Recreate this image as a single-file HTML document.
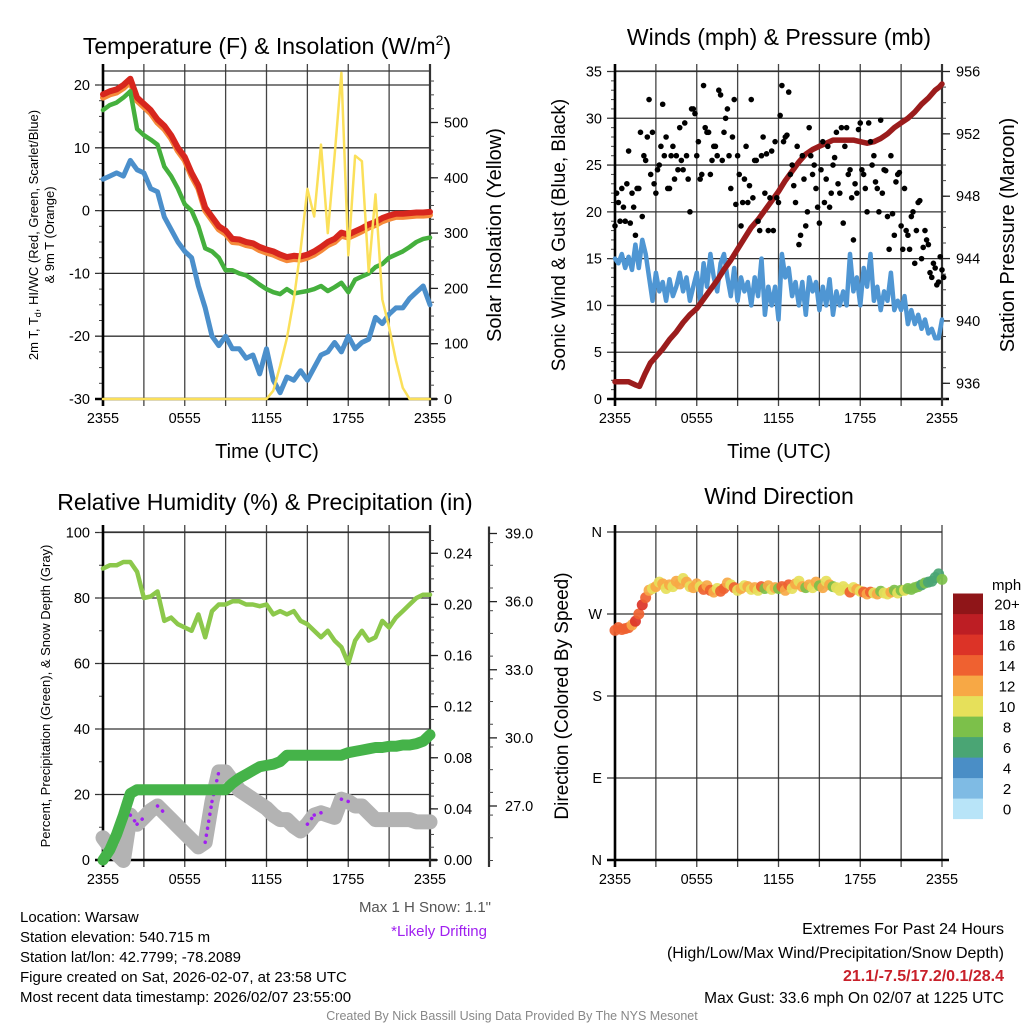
<!DOCTYPE html>
<html><head><meta charset="utf-8"><style>
html,body{margin:0;padding:0;background:#fff;}
svg{display:block;font-family:"Liberation Sans",Arial,sans-serif;}
</style></head><body>
<svg id="fig" width="1024" height="1024" viewBox="0 0 1024 1024" xmlns="http://www.w3.org/2000/svg">
<rect width="1024" height="1024" fill="#fff"/>
<!-- titles -->
<text x="267" y="54" font-size="23" text-anchor="middle">Temperature (F) &amp; Insolation (W/m<tspan font-size="14" dy="-9">2</tspan><tspan dy="9">)</tspan></text>
<text x="779" y="45" font-size="23" text-anchor="middle">Winds (mph) &amp; Pressure (mb)</text>
<text x="265" y="510" font-size="23" text-anchor="middle">Relative Humidity (%) &amp; Precipitation (in)</text>
<text x="779" y="504" font-size="23" text-anchor="middle">Wind Direction</text>
<!-- axis titles -->
<text transform="translate(38,235) rotate(-90)" font-size="13" text-anchor="middle">2m T, T<tspan font-size="9" dy="3">d</tspan><tspan dy="-3">, HI/WC (Red, Green, Scarlet/Blue)</tspan></text>
<text transform="translate(54,235) rotate(-90)" font-size="13" text-anchor="middle">&amp; 9m T (Orange)</text>
<text transform="translate(501,235) rotate(-90)" font-size="20" text-anchor="middle">Solar Insolation (Yellow)</text>
<text x="267" y="458" font-size="20" text-anchor="middle">Time (UTC)</text>
<text transform="translate(565,235) rotate(-90)" font-size="19" text-anchor="middle">Sonic Wind &amp; Gust (Blue, Black)</text>
<text transform="translate(1014,235) rotate(-90)" font-size="20" text-anchor="middle">Station Pressure (Maroon)</text>
<text x="779" y="458" font-size="20" text-anchor="middle">Time (UTC)</text>
<text transform="translate(50,696) rotate(-90)" font-size="13" text-anchor="middle">Percent, Precipitation (Green), &amp; Snow Depth (Gray)</text>
<text transform="translate(568,696) rotate(-90)" font-size="19" text-anchor="middle">Direction (Colored By Speed)</text>
<!-- footer -->
<text x="491" y="912" font-size="15" fill="#555" text-anchor="end">Max 1 H Snow: 1.1"</text>
<text x="487" y="936" font-size="15" fill="#a020f0" text-anchor="end">*Likely Drifting</text>
<g font-size="15" fill="#000">
<text x="20" y="922">Location: Warsaw</text>
<text x="20" y="942">Station elevation: 540.715 m</text>
<text x="20" y="962">Station lat/lon: 42.7799; -78.2089</text>
<text x="20" y="982">Figure created on Sat, 2026-02-07, at 23:58 UTC</text>
<text x="20" y="1002">Most recent data timestamp: 2026/02/07 23:55:00</text>
</g>
<text x="512" y="1020" font-size="12.5" fill="#888" text-anchor="middle">Created By Nick Bassill Using Data Provided By The NYS Mesonet</text>
<g font-size="16" text-anchor="end">
<text x="1004" y="934">Extremes For Past 24 Hours</text>
<text x="1004" y="958">(High/Low/Max Wind/Precipitation/Snow Depth)</text>
<text x="1004" y="981" fill="#c8202a" font-weight="bold">21.1/-7.5/17.2/0.1/28.4</text>
<text x="1004" y="1003" font-size="15.5">Max Gust: 33.6 mph On 02/07 at 1225 UTC</text>
</g>
<g id="layer"></g>
</svg>
<script>
// ---------- DATA (half-hourly unless noted) ----------
const tempRed=[18.5,19,19.3,20,21,18,17,16,14.5,13.5,12,10,8.5,6,4,0.5,-1,-2.5,-3.2,-4.5,-4.6,-5,-5.2,-5.8,-6.2,-6.5,-7,-7.4,-7.2,-7.3,-7,-6.5,-5.8,-5,-4.5,-3.5,-3.8,-3.3,-2.8,-2.2,-1.8,-1.2,-0.8,-0.5,-0.5,-0.4,-0.3,-0.3,-0.2];
const tempOrange=[18,18.5,18.8,19.5,20.5,17.5,16.5,15.5,14,13,11.5,9.5,8,5.5,3.5,0,-1.5,-3,-3.7,-5,-5.1,-5.5,-5.7,-6.3,-6.7,-7,-7.5,-7.9,-7.7,-7.8,-7.5,-7,-6.3,-5.5,-5,-4,-4.3,-3.8,-3.3,-2.7,-2.3,-1.7,-1.3,-1,-1,-0.9,-0.8,-0.8,-0.7];
const tempGreen=[16,16.8,17.2,18,19,13,12,11.3,10.5,7,5.5,3.5,1,0,-2.5,-6,-6.5,-7.5,-9.5,-9.5,-10,-10.3,-11,-11.8,-12.5,-13,-13.3,-12.5,-13.2,-13,-12.8,-12.5,-12,-12.8,-12.2,-11.5,-13,-11,-10.5,-10,-9,-8.5,-7.5,-7,-6.5,-5.8,-5,-4.5,-4.3];
const tempBlue=[5,5.5,6,5.5,8,6.5,6,3.5,3,-1,-3,-5,-6.5,-7.5,-12,-15.5,-20,-21.5,-20,-22,-22,-23.5,-23,-26,-22,-27,-29,-26.5,-27,-25.5,-27,-25,-23,-22.5,-21,-22.5,-20,-22,-21,-20.5,-17,-18,-16.5,-15.5,-15.5,-14,-13,-12,-15];
const solar=[0,0,0,0,0,0,0,0,0,0,0,0,0,0,0,0,0,0,0,0,0,0,0,0,0,15,60,110,180,270,380,330,460,300,440,590,260,440,430,230,370,180,130,70,20,0,0,0,0];
// quarter-hourly wind data
const windSpeed=[15,14.5,15.5,14,15.2,13.8,16.5,14,17,15.5,13,10.5,13.5,11.5,12.5,10.5,12.8,11,12,13.5,11.5,13,10.5,12,13.5,10.5,14.5,12,15.5,13,11.5,14.5,15.5,13,11,14,10.5,13,11.5,12.5,10,13,11,15,9,12,10,12,8.5,15.5,13,14,11,12.5,10,12.5,9,13,11.5,12.5,9.5,12,10,12.8,9,11.5,10,11.5,10,15.5,11.5,13,10,14,12,15.5,10.5,12,9.5,11.5,10.5,13.5,9.5,10.5,9.5,11,8,9.5,8,9,7.5,8.5,7,7.5,6.5,6.5,8.5];
const windGust=[18.5,21,22.5,19,26.5,22,17.5,22.5,19.5,25.5,32,28.5,22,25,31.5,28,22.5,27,26,29,24.5,26,20,31,26,23.5,33.5,28.5,24,27,26,32.5,28.5,31,22.5,32,26,18.5,23.5,21,32,25.5,19,26,22,18,26.5,27.5,21,33.5,28,32.8,25,21,16.5,26,18.5,29,24,22.5,18.8,27.5,23.5,20.5,25,28.5,22,18.8,29,24.5,17,22,29.5,24,20,27.5,26,22.5,29.8,24.5,19.5,26,17.5,24,18.5,22.5,17.5,19.5,14.5,21,15,18,16.5,13,14,12.5,13.8];
const windGust2=[22,19,20.5,23,18.8,20.5,22.5,28.5,26,28,24,23,24.5,27,26,22.5,26,23.5,24.5,25.5,29.5,23.5,31,30.5,27.5,24,29,28.5,25.5,27,33,25.5,30,26,28,20.8,24,21,27,22.8,21.5,25.5,18,28,26.2,21.5,18,21.5,30.3,27.5,28.2,24,22.8,27,17.5,23.5,20,26,25,20.5,24.5,21,27,22,25.8,23,29,27,24,21.5,23,28.8,24.5,22.5,29.5,25,23.2,20,22,24.4,16,19.8,23.2,24.2,16,18,16,20,18,21.2,16.2,17,13.5,14.5,12.2,15.2,13];
const windDir=[252,255,253,254,255,258,262,270,280,288,296,298,300,305,303,298,302,300,306,303,309,305,300,299,303,300,297,301,296,294,298,295,298,304,302,299,296,298,301,300,297,299,296,300,298,301,297,299,298,300,296,302,298,303,306,300,299,302,299,305,301,299,306,302,300,299,296,300,297,294,299,297,295,294,292,294,293,292,295,293,292,294,296,293,296,296,298,297,299,300,302,304,305,306,310,314,308];
const pressure=[936.1,936.1,936.1,935.9,935.8,936.6,937.3,937.7,938.2,938.8,939.3,939.9,940.4,940.8,941.4,942.0,942.6,943.3,943.9,944.6,945.3,946.0,946.5,947.1,947.7,948.3,949.0,949.6,950.2,950.7,951.0,951.2,951.4,951.6,951.6,951.6,951.6,951.5,951.4,951.5,951.7,952.0,952.4,952.7,953.0,953.4,953.9,954.3,954.8,955.0,955.2];
const pressureHours=[0,0.5,1,1.5,1.8,2.2,2.6,3,3.5,4,4.5,5,5.5,6,6.5,7,7.5,8,8.5,9,9.5,10,10.5,11,11.5,12,12.5,13,13.5,14,14.5,15,15.5,16,16.5,17,17.5,18,18.5,19,19.5,20,20.5,21,21.5,22,22.5,23,23.5,23.8,24];
const rh=[89,90,90,91,91,88,80,80.5,82,73,74,72,71,70,75,68,76,78,78,79,79,78,78,77.5,78,75,76,75,76,73,72,70,68,70,67,65,60,67,70,67,68,73,71,74,76,78,80,81,81];
const precip=[0,0.008,0.02,0.035,0.052,0.055,0.055,0.055,0.055,0.055,0.055,0.055,0.055,0.055,0.055,0.055,0.055,0.055,0.055,0.06,0.064,0.067,0.07,0.073,0.074,0.075,0.077,0.082,0.082,0.082,0.082,0.082,0.082,0.082,0.082,0.082,0.084,0.085,0.086,0.087,0.088,0.088,0.089,0.089,0.09,0.09,0.091,0.093,0.098];
const snowDepth=[25.6,25.2,24.9,24.6,26.6,26.2,26.5,26.8,27.0,26.7,26.4,26.1,25.8,25.5,25.2,25.4,27.2,28.5,28.5,28.1,27.7,27.5,27.3,27.1,26.9,26.6,26.4,26.4,26.1,25.9,26.2,26.6,26.7,26.6,26.5,27.3,27.2,27.0,27.0,26.7,26.4,26.4,26.4,26.4,26.4,26.4,26.3,26.3,26.3];
const drift=[0,0,0,0,1,1,0,0,1,0,0,0,0,0,0,1,1,0,0,0,0,0,0,0,0,0,0,0,0,0,1,1,0,0,0,1,0,0,0,0,0,0,0,0,0,0,0,0,0];
const timeLabels=["2355","0555","1155","1755","2355"];
const tempTicks=[20,10,0,-10,-20,-30];
const solarTicks=[0,100,200,300,400,500];
const windTicks=[0,5,10,15,20,25,30,35];
const presTicks=[936,940,944,948,952,956];
const rhTicks=[0,20,40,60,80,100];
const precipTicks=[0,0.04,0.08,0.12,0.16,0.20,0.24];
const snowTicks=[27,30,33,36,39];
const dirTicks=[0,90,180,270,360];
const dirLabels=["N","E","S","W","N"];
const speedBins=["0","2","4","6","8","10","12","14","16","18","20+"];
const speedColors=["#b8e4f8","#7fbbe4","#4a8ec6","#4aa574","#7cc04a","#e6e05a","#f7a845","#ef6130","#dc3327","#bd1e24","#8f1518"];

// ---------- helpers ----------
const NS="http://www.w3.org/2000/svg";
const layer=document.getElementById('layer');
function mk(tag,attrs,parent){const e=document.createElementNS(NS,tag);for(const k in attrs)e.setAttribute(k,attrs[k]);(parent||layer).appendChild(e);return e;}
function linScale(d0,d1,r0,r1){return v=>r0+(v-d0)*(r1-r0)/(d1-d0);}
const P1={x0:103,x1:430,y0:71,y1:399}, P2={x0:615,x1:942,y0:71,y1:399}, P3={x0:103,x1:430,y0:532,y1:860}, P4={x0:615,x1:942,y0:532,y1:860};
function tx(P){return linScale(0,24,P.x0,P.x1);}
function path(pts){return pts.map((p,i)=>(i?'L':'M')+p[0].toFixed(1)+' '+p[1].toFixed(1)).join(' ');}

function frame(P,yScale,yTicks,yLabels,name,minorStep,yMin,yMax){
  const g=mk('g',{});
  
  
  const X=tx(P);
  for(let h=0;h<=24;h+=3){
    const l=mk('line',{x1:X(h),x2:X(h),y1:P.y0-7,y2:P.y1+7,stroke:'#444','stroke-width':1.3},g);
    
    
  }
  yTicks.forEach((v,i)=>{
    const y=yScale(v);
    const l=mk('line',{x1:P.x0-8,x2:P.x1,y1:y,y2:y,stroke:'#333','stroke-width':1.3},g);
    
    
    const t=mk('text',{x:P.x0-13,y:y+5,'font-size':14.5,'text-anchor':'end'},g);
    t.textContent=yLabels[i];
    
    
  });
  if(minorStep){for(let v=yMin;v<=yMax+1e-9;v+=minorStep){const y=yScale(v);if(y<P.y0-0.5||y>P.y1+0.5)continue;mk('line',{x1:P.x0-4,x2:P.x0,y1:y,y2:y,stroke:'#444','stroke-width':1},g);}}
  mk('line',{x1:P.x0,x2:P.x1,y1:P.y0,y2:P.y0,stroke:'#333','stroke-width':1.3},g);
  mk('line',{x1:P.x0,x2:P.x0,y1:P.y0-7,y2:P.y1+7,stroke:'#000','stroke-width':2.6},g);
  mk('line',{x1:P.x0-8,x2:P.x1+7,y1:P.y1,y2:P.y1,stroke:'#000','stroke-width':2.6},g);
  timeLabels.forEach((s,i)=>{
    const t=mk('text',{x:X(i*6),y:P.y1+24,'font-size':14.5,'text-anchor':'middle'},g);
    t.textContent=s;
    
    
  });
  return g;
}
function rightAxis(P,scale,ticks,labels,name,minorStep,vMin,vMax,xLine,lx){
  const g=mk('g',{});
  
  
  const xl=xLine||P.x1;
  mk('line',{x1:xl,x2:xl,y1:P.y0-7,y2:P.y1+7,stroke:'#333','stroke-width':2.2},g);
  for(let v=vMin;v<=vMax+1e-9;v+=minorStep){const y=scale(v);if(y<P.y0-8||y>P.y1+1)continue;mk('line',{x1:xl,x2:xl+4,y1:y,y2:y,stroke:'#444','stroke-width':1},g);}
  ticks.forEach((v,i)=>{
    const y=scale(v);
    mk('line',{x1:xl,x2:xl+8,y1:y,y2:y,stroke:'#222','stroke-width':1.3},g);
    const t=mk('text',{x:(lx||xl+14),y:y+5,'font-size':14.5},g);
    t.textContent=labels[i];
    
    
  });
}
function series(P,hours,vals,scale,color,w,name){
  const X=tx(P);
  const p=mk('path',{d:path(vals.map((v,i)=>[X(hours[i]),scale(v)])),fill:'none',stroke:color,'stroke-width':w,'stroke-linejoin':'round','stroke-linecap':'round'});
  
  
  return p;
}
const halfHours=tempRed.map((_,i)=>i*0.5);
const quarterHours=windSpeed.map((_,i)=>i*0.25);

// ---------- Panel 1 ----------
const yT=linScale(20,-30,85,399);
const yS=linScale(0,500,399,122.5);
frame(P1,yT,tempTicks,tempTicks.map(String),'temperature',2.5,-30,22.5);
rightAxis(P1,yS,solarTicks,solarTicks.map(String),'solar',25,0,575);
series(P1,halfHours,tempOrange,yT,'#f58a3a',6,'series-9m-temp-orange');
series(P1,halfHours,tempRed,yT,'#d7261e',6,'series-2m-temp-red');
series(P1,halfHours,tempGreen,yT,'#45b03d',4.5,'series-dewpoint-green');
series(P1,halfHours,tempBlue,yT,'#4b8fcb',5,'series-windchill-blue');
series(P1,halfHours,solar,yS,'#fbe05a',2.5,'series-solar-yellow');

// ---------- Panel 2 ----------
const yW=linScale(0,35,399,71.5);
const yP=linScale(936,956,383.3,71.5);
frame(P2,yW,windTicks,windTicks.map(String),'winds',1,0,35);
rightAxis(P2,yP,presTicks,presTicks.map(String),'pressure',1,935,956);
series(P2,quarterHours,windSpeed,yW,'#4f96d3',4.5,'series-sonic-wind-blue');
series(P2,pressureHours,pressure,yP,'#9b1c1c',5.5,'series-pressure-maroon');
{const X=tx(P2);
windGust.forEach((v,i)=>{const c=mk('circle',{cx:X(quarterHours[i]),cy:yW(v),r:2.8,fill:'#000'});

});
windGust2.forEach((v,i)=>{const c=mk('circle',{cx:X(quarterHours[i]+0.12),cy:yW(v),r:2.8,fill:'#000'});

});}

// ---------- Panel 3 ----------
const yR=linScale(0,100,860,532.5);
const yPr=linScale(0,0.24,860,553.3);
const ySn=linScale(27,39,806,533.5);
frame(P3,yR,rhTicks,rhTicks.map(String),'humidity',10,0,100);
rightAxis(P3,yPr,precipTicks,precipTicks.map(v=>v.toFixed(2)),'precip',0.01,0,0.255);
rightAxis({x0:P3.x0,x1:489,y0:533.5,y1:860},ySn,snowTicks,snowTicks.map(v=>v.toFixed(1)),'snow-depth',1,24.6,39,489,505);
series(P3,halfHours,snowDepth,ySn,'#b3b3b3',15,'series-snow-depth-gray');
{const X=tx(P3);
for(let i=0;i<drift.length-1;i++){ if(drift[i]){
  const p=mk('path',{d:path([[X(halfHours[i]),ySn(snowDepth[i])],[X(halfHours[i+1]),ySn(snowDepth[i+1])]]),stroke:'#a020f0','stroke-width':3.5,'stroke-dasharray':'0.1 7','stroke-linecap':'round',fill:'none'});
  
  
}}}
series(P3,halfHours,rh,yR,'#8cc84b',4.5,'series-rh-light-green');
series(P3,halfHours,precip,yPr,'#45b349',11,'series-precip-green');

// ---------- Panel 4 ----------
const yD=linScale(0,360,860,532);
frame(P4,yD,dirTicks,dirLabels,'direction',0,0,0);
{const X=tx(P4);
windDir.forEach((d,i)=>{
  const b=Math.min(10,Math.max(0,Math.floor(windSpeed[i]/2)));
  const c=mk('circle',{cx:X(quarterHours[i]),cy:yD(d),r:5.5,fill:speedColors[b],'fill-opacity':0.92});
  
  
});}
// colorbar
{const g=mk('g',{});


const t0=mk('text',{x:992,y:590,'font-size':15},g);t0.textContent='mph';
speedColors.forEach((c,i)=>{
  const y=819-(i+1)*20.5;
  const r=mk('rect',{x:953,y:y,width:30,height:20.6,fill:c},g);
  
  
  const t=mk('text',{x:1007,y:y+16,'font-size':15,'text-anchor':'middle'},g);
  t.textContent=speedBins[i];
  
  
});}
</script>
</body></html>
